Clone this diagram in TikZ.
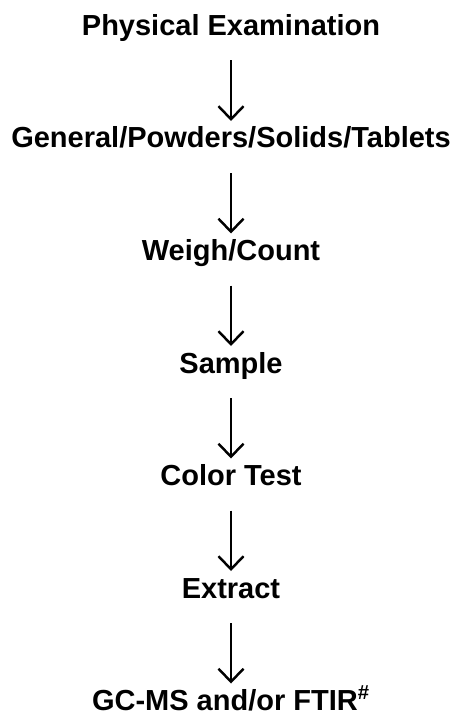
\documentclass[tikz,border=0pt]{standalone}
\usepackage{fontspec}
\setmainfont{Liberation Sans}
\usetikzlibrary{positioning,arrows.meta}
\tikzset{
>={Straight Barb[length=0.26cm,width=0.5cm]},
shorten <=0.5cm,
shorten >=0.12cm,
node distance=1.83cm,
stage/.style={inner sep=0pt, outer sep=0pt, text height=0.42cm, text depth=0pt,
  font=\fontsize{16.5}{18}\selectfont\bfseries},
}
\begin{document}
\begin{tikzpicture}[->, line width=1.4pt]
    \useasboundingbox (0,0) rectangle (9.22,-14.32);
    \node[stage, anchor=north] (exam) at (4.62,-0.29) {Physical Examination};
    \node[stage, below=of exam] (general) {General/Powders/Solids/Tablets};
    \node[stage, below=of general] (weigh) {Weigh/Count};
    \node[stage, below=of weigh] (sample) {Sample};
    \node[stage, below=of sample] (color) {Color Test};
    \node[stage, below=of color] (extract) {Extract};
    \node[stage, below=of extract] (gcms) {GC-MS and/or FTIR\textsuperscript{\#}};

    \draw (exam) edge (general);
    \draw (general) edge (weigh);
    \draw (weigh) edge (sample);
    \draw (sample) edge (color);
    \draw (color) edge (extract);
    \draw (extract) edge (gcms);

\end{tikzpicture}
\end{document}
